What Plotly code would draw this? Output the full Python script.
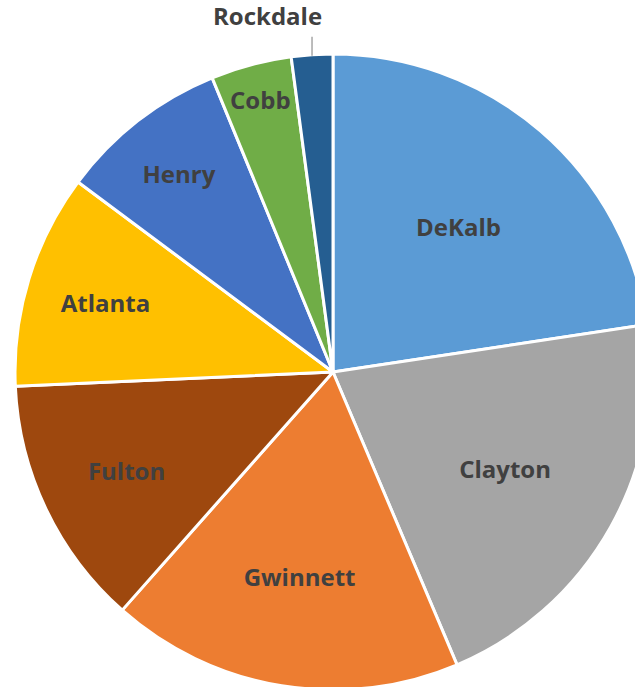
import math
import plotly.graph_objects as go

counties = ["DeKalb", "Clayton", "Gwinnett", "Fulton", "Atlanta", "Henry", "Cobb", "Rockdale"]
values = [22.6, 21.0, 17.9, 12.75, 10.9, 8.6, 4.1, 2.1]
colors = ["#5B9BD5", "#A5A5A5", "#ED7D31", "#9E480E", "#FFC000", "#4472C4", "#70AD47", "#255E91"]
outside_label = "Rockdale"

W, H = 660, 700
cx, cy, r = 333, 372, 318
FONT = dict(family="Open Sans", size=24, color="#404040", weight="bold")

texts = ["" if c == outside_label else c for c in counties]

fig = go.Figure(go.Pie(
    labels=counties,
    values=values,
    text=texts,
    sort=False,
    direction="clockwise",
    rotation=0,
    marker=dict(colors=colors, line=dict(color="white", width=3)),
    textinfo="text",
    textposition="inside",
    insidetextorientation="horizontal",
    textfont=FONT,
    showlegend=False,
    hoverinfo="label+percent",
    domain=dict(x=[(cx - r) / W, (cx + r) / W], y=[(H - cy - r) / H, (H - cy + r) / H]),
))

# leader line + outside label for the small slice, placed from its data angle
total = sum(values)
i = counties.index(outside_label)
mid = 2 * math.pi * (sum(values[:i]) + values[i] / 2) / total
px = cx + r * math.sin(mid)
py = cy - r * math.cos(mid)
line_len = 18
fig.add_shape(type="line", xref="paper", yref="paper",
              x0=px / W, x1=px / W, y0=1 - (py + 1) / H, y1=1 - (py - line_len) / H,
              line=dict(color="#A6A6A6", width=1.5))
fig.add_annotation(xref="paper", yref="paper", x=(px + 12) / W, y=1 - (py - line_len - 3) / H,
                   xanchor="right", yanchor="bottom", showarrow=False,
                   text=outside_label, font=FONT)

fig.update_layout(
    width=W, height=H,
    margin=dict(l=0, r=0, t=0, b=0),
    paper_bgcolor="white",
    plot_bgcolor="white",
)
fig.write_html("out.html", config={"displayModeBar": False},
               post_script="document.body.style.margin='0';document.body.style.overflow='hidden';")
